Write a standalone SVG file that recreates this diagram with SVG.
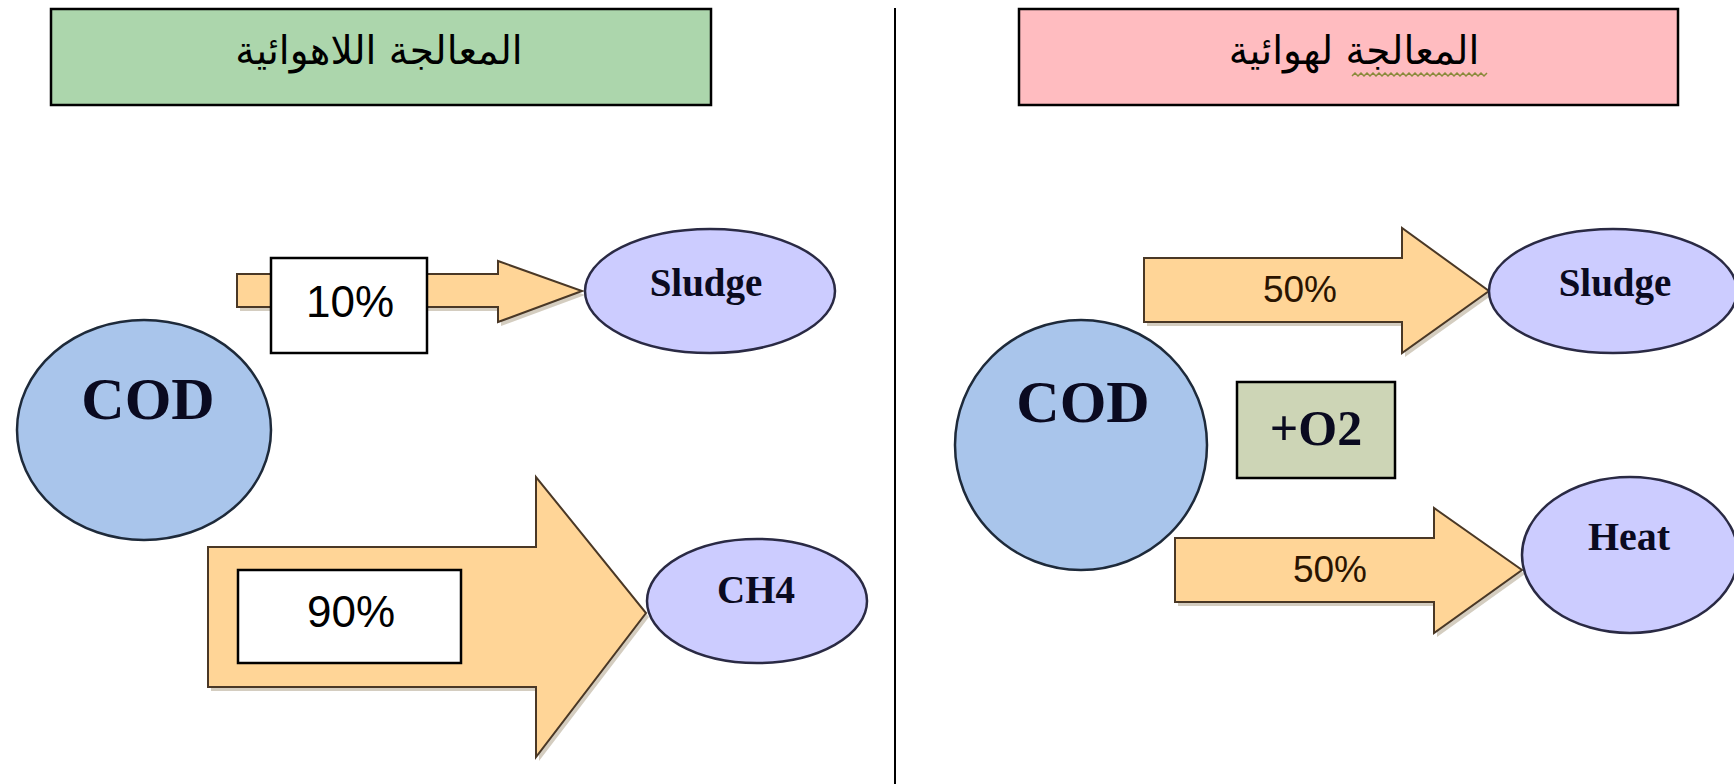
<svg xmlns="http://www.w3.org/2000/svg" width="1734" height="784" viewBox="0 0 1734 784">
  <style>
    .title { stroke: #000; stroke-width: 2.5; }
    .ar { font-family: "DejaVu Sans", "Noto Sans", sans-serif; font-size: 39px; fill: #000; text-anchor: middle; }
    .arrow { fill: #ffd597; stroke: #4a3826; stroke-width: 2; stroke-linejoin: miter; }
    .shadow { fill: #b0a48c; opacity: 0.55; }
    .cod { fill: #a9c5eb; stroke: #1e2a3a; stroke-width: 2.5; }
    .out { fill: #ccccff; stroke: #2a2a44; stroke-width: 2.5; }
    .box { fill: #ffffff; stroke: #000; stroke-width: 2.5; }
    .bold { font-family: "Liberation Serif", "Times New Roman", serif; font-weight: bold; text-anchor: middle; fill: #0a0a20; }
    .pct { font-family: "Liberation Sans", Arial, sans-serif; text-anchor: middle; }
  </style>

  <rect width="1734" height="784" fill="#ffffff"/>

  <g id="divider">
    <line x1="895" y1="8" x2="895" y2="784" stroke="#000" stroke-width="2"/>
  </g>

  <g id="title-anaerobic">
    <rect class="title" x="51" y="9" width="660" height="96" fill="#acd6ac"/>
    <text class="ar" x="379" y="64" direction="rtl">المعالجة اللاهوائية</text>
  </g>

  <g id="title-aerobic">
    <rect class="title" x="1019" y="9" width="659" height="96" fill="#ffbcc0"/>
    <text class="ar" x="1354" y="64" direction="rtl">المعالجة لهوائية</text>
    <path d="M1352,76 l3,-3 l3,3 l3,-3 l3,3 l3,-3 l3,3 l3,-3 l3,3 l3,-3 l3,3 l3,-3 l3,3 l3,-3 l3,3 l3,-3 l3,3 l3,-3 l3,3 l3,-3 l3,3 l3,-3 l3,3 l3,-3 l3,3 l3,-3 l3,3 l3,-3 l3,3 l3,-3 l3,3 l3,-3 l3,3 l3,-3 l3,3 l3,-3 l3,3 l3,-3 l3,3 l3,-3 l3,3 l3,-3 l3,3 l3,-3 l3,3 l3,-3" fill="none" stroke="#8a8a3a" stroke-width="1.5"/>
  </g>

  <g id="connectors">
    <g id="arrow-10">
      <polygon class="shadow" points="240,278 501,278 501,265 585,295 501,326 501,311 240,311"/>
      <polygon class="arrow" points="237,274 498,274 498,261 582,291 498,322 498,307 237,307"/>
    </g>
    <g id="arrow-90">
      <polygon class="shadow" points="211,551 539,551 539,481 649,617 539,761 539,691 211,691"/>
      <polygon class="arrow" points="208,547 536,547 536,477 646,613 536,757 536,687 208,687"/>
    </g>
    <g id="arrow-50-sludge">
      <polygon class="shadow" points="1147,262 1405,262 1405,232 1492,295 1405,357 1405,326 1147,326"/>
      <polygon class="arrow" points="1144,258 1402,258 1402,228 1489,291 1402,353 1402,322 1144,322"/>
      <text class="pct" x="1300" y="302" font-size="37" fill="#2b1400">50%</text>
    </g>
    <g id="arrow-50-heat">
      <polygon class="shadow" points="1178,542 1437,542 1437,512 1525,574 1437,637 1437,606 1178,606"/>
      <polygon class="arrow" points="1175,538 1434,538 1434,508 1522,570 1434,633 1434,602 1175,602"/>
      <text class="pct" x="1330" y="582" font-size="37" fill="#2b1400">50%</text>
    </g>
  </g>

  <g id="label-10">
    <rect class="box" x="271" y="258" width="156" height="95"/>
    <text class="pct" x="350" y="317" font-size="44" fill="#000">10%</text>
  </g>

  <g id="label-90">
    <rect class="box" x="238" y="570" width="223" height="93"/>
    <text class="pct" x="351" y="627" font-size="44" fill="#000">90%</text>
  </g>

  <g id="cod-left">
    <ellipse class="cod" cx="144" cy="430" rx="127" ry="110"/>
    <text class="bold" x="148" y="419" font-size="60">COD</text>
  </g>

  <g id="sludge-left">
    <ellipse class="out" cx="710" cy="291" rx="125" ry="62"/>
    <text class="bold" x="706" y="296" font-size="39">Sludge</text>
  </g>

  <g id="ch4">
    <ellipse class="out" cx="757" cy="601" rx="110" ry="62"/>
    <text class="bold" x="756" y="603" font-size="39">CH4</text>
  </g>

  <g id="cod-right">
    <ellipse class="cod" cx="1081" cy="445" rx="126" ry="125"/>
    <text class="bold" x="1083" y="422" font-size="60">COD</text>
  </g>

  <g id="o2">
    <rect x="1237" y="382" width="158" height="96" fill="#cdd5b6" stroke="#000" stroke-width="2.5"/>
    <text class="bold" x="1316" y="445" font-size="50" fill="#000">+O2</text>
  </g>

  <g id="sludge-right">
    <ellipse class="out" cx="1613" cy="291" rx="124" ry="62"/>
    <text class="bold" x="1615" y="296" font-size="39">Sludge</text>
  </g>

  <g id="heat">
    <ellipse class="out" cx="1630" cy="555" rx="108" ry="78"/>
    <text class="bold" x="1629" y="550" font-size="40">Heat</text>
  </g>
</svg>
